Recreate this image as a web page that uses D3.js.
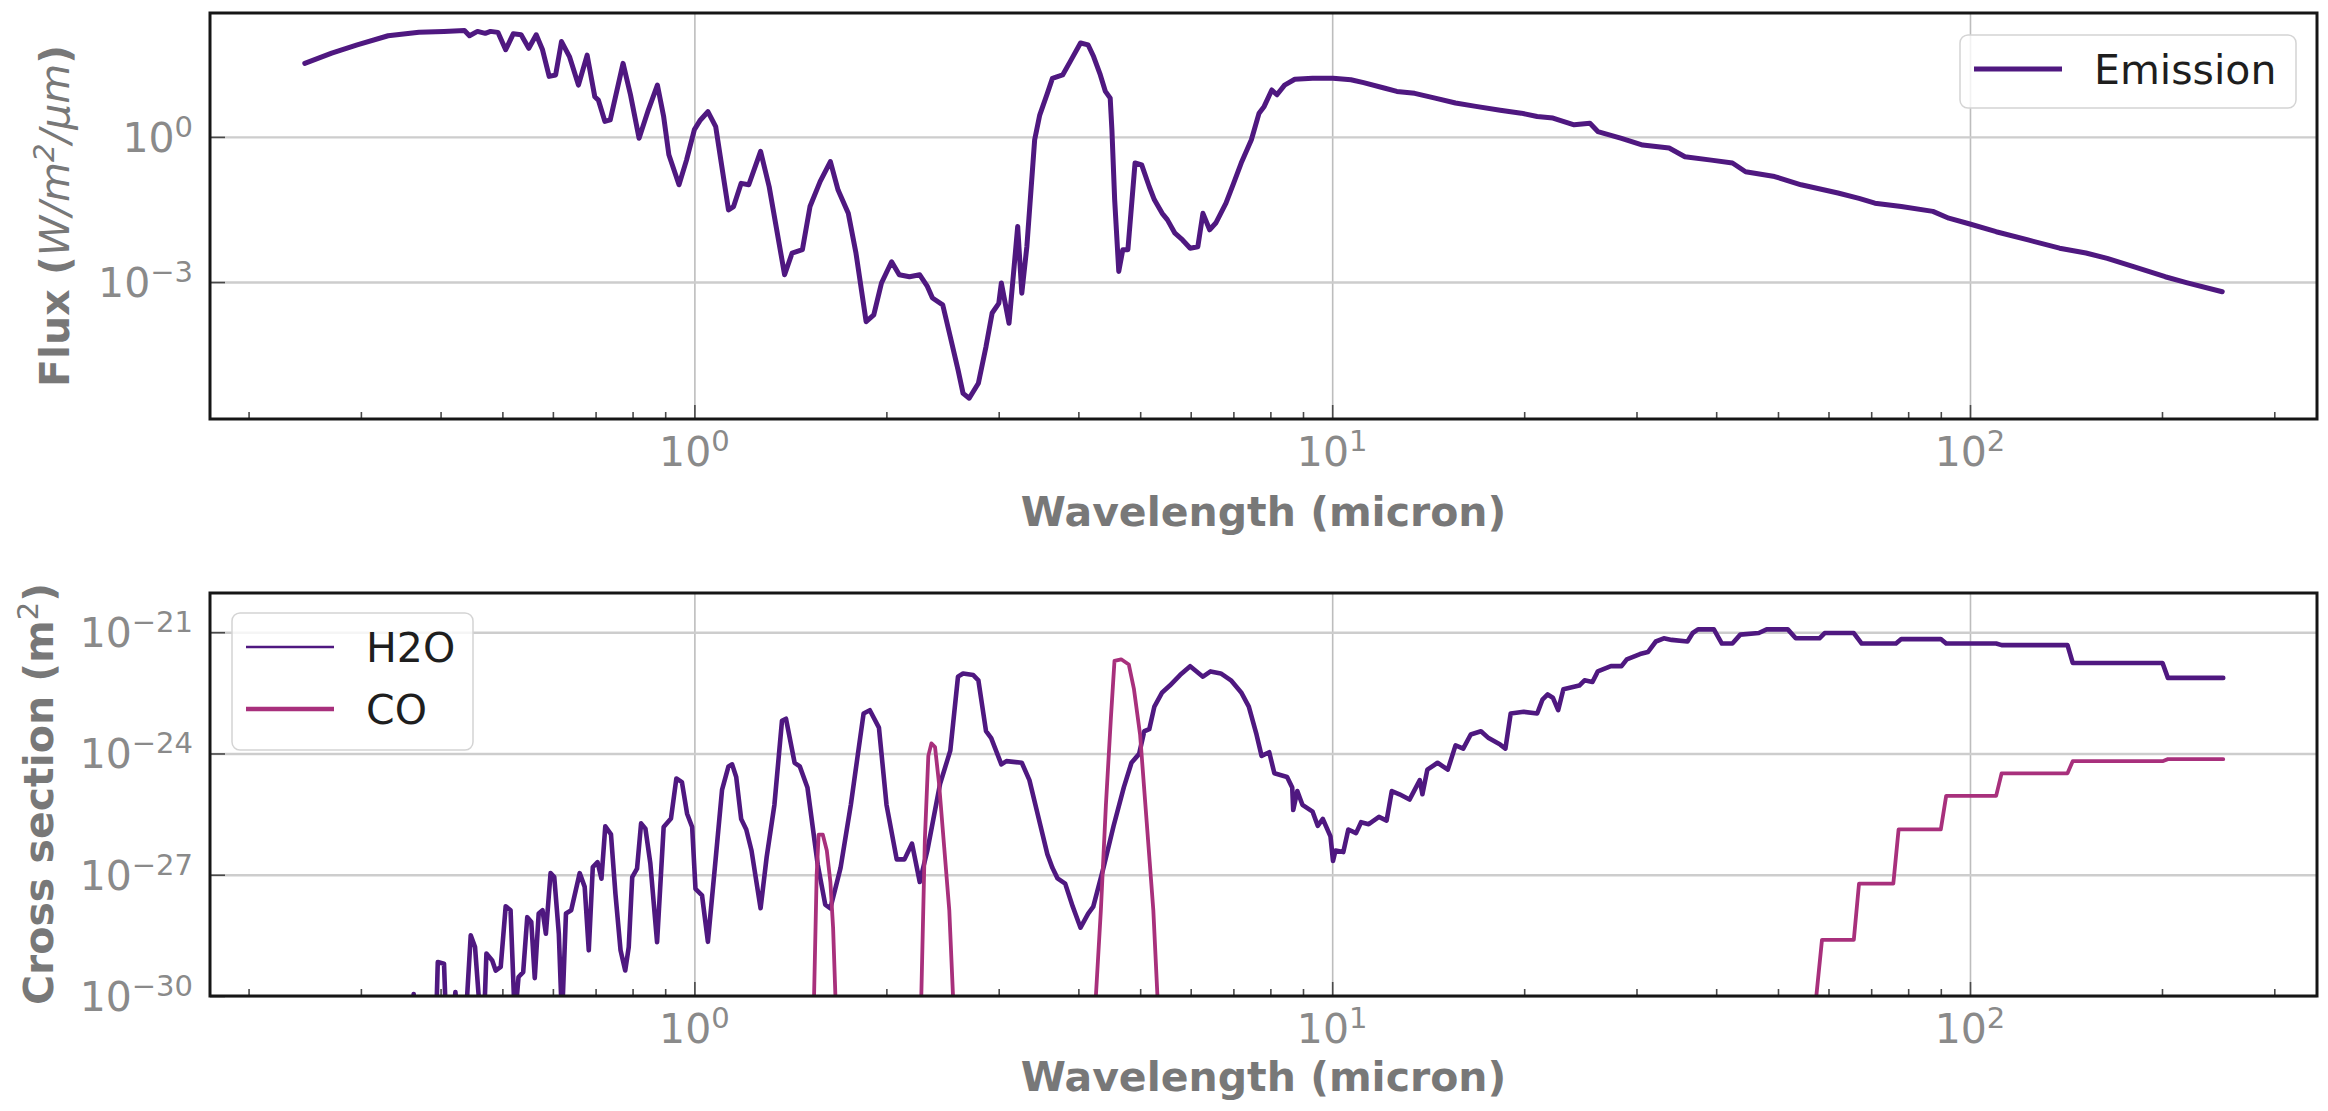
<!DOCTYPE html>
<html>
<head>
<meta charset="utf-8">
<script src="https://cdn.jsdelivr.net/npm/d3@7"></script>
<style>
    html, body { margin: 0; padding: 0; background: #fff; }
    svg { display: block; }
    text { font-family: "DejaVu Sans", sans-serif; }
</style>
</head>
<body>
<svg id="chart" width="2328" height="1111"></svg>
<script>
// wavelengths in micron; flux and cross sections are log10 values
var wavelengthTicks = [1, 10, 100];
var wavelengthTickExponents = ['0', '1', '2'];
var fluxTicks = [1e0, 1e-3];
var fluxTickExponents = ['0', '\u22123'];
var crossTicks = [1e-21, 1e-24, 1e-27, 1e-30];
var crossTickExponents = ['\u221221', '\u221224', '\u221227', '\u221230'];

var emissionWavelength = [
    0.245, 0.270, 0.296, 0.331, 0.370, 0.405, 0.436, 0.444, 0.457, 0.470,
    0.479, 0.492, 0.506, 0.520, 0.535, 0.550, 0.565, 0.578, 0.592, 0.606,
    0.619, 0.637, 0.658, 0.679, 0.698, 0.707, 0.724, 0.738, 0.773, 0.794,
    0.819, 0.847, 0.875, 0.895, 0.912, 0.946, 0.972, 1.000, 1.022, 1.050,
    1.080, 1.131, 1.152, 1.184, 1.217, 1.270, 1.310, 1.385, 1.423, 1.477,
    1.518, 1.575, 1.634, 1.680, 1.743, 1.792, 1.859, 1.911, 1.965, 2.038,
    2.095, 2.174, 2.256, 2.319, 2.362, 2.451, 2.519, 2.590, 2.638, 2.697,
    2.788, 2.866, 2.930, 3.001, 3.029, 3.114, 3.172, 3.213, 3.261, 3.321,
    3.416, 3.479, 3.576, 3.642, 3.779, 3.885, 4.031, 4.144, 4.226, 4.330,
    4.410, 4.487, 4.515, 4.560, 4.628, 4.696, 4.783, 4.908, 5.027, 5.167,
    5.263, 5.413, 5.514, 5.668, 5.826, 5.989, 6.157, 6.271, 6.425, 6.569,
    6.815, 7.005, 7.200, 7.470, 7.680, 7.823, 8.041, 8.191, 8.421, 8.737,
    9.318, 10.03, 10.70, 11.20, 12.06, 12.63, 13.47, 14.50, 15.61, 16.80,
    18.34, 19.79, 20.96, 22.19, 23.95, 25.36, 26.09, 28.42, 30.68, 33.75,
    35.73, 39.30, 42.42, 44.48, 49.39, 54.35, 62.09, 66.99, 70.94, 78.04,
    87.47, 92.64, 99.96, 109.9, 123.3, 138.2, 152.0, 164.1, 180.5, 202.3,
    218.4, 248.6
];
var emissionLogFlux = [
    1.52, 1.73, 1.90, 2.09, 2.16, 2.18, 2.20, 2.09, 2.18, 2.14,
    2.18, 2.16, 1.80, 2.13, 2.11, 1.83, 2.11, 1.80, 1.25, 1.28,
    1.97, 1.66, 1.07, 1.69, 0.83, 0.76, 0.32, 0.35, 1.52, 0.87,
    -0.03, 0.56, 1.07, 0.42, -0.37, -0.99, -0.48, 0.15, 0.35, 0.52,
    0.21, -1.51, -1.44, -0.96, -0.99, -0.30, -1.03, -2.85, -2.40, -2.33,
    -1.44, -0.92, -0.51, -1.10, -1.58, -2.40, -3.82, -3.68, -3.02, -2.58,
    -2.85, -2.89, -2.85, -3.09, -3.33, -3.47, -4.13, -4.81, -5.30, -5.40,
    -5.09, -4.33, -3.64, -3.44, -3.02, -3.85, -2.68, -1.85, -3.23, -2.27,
    -0.06, 0.45, 0.90, 1.21, 1.28, 1.56, 1.94, 1.90, 1.66, 1.28,
    0.94, 0.80, 0.14, -1.30, -2.78, -2.33, -2.33, -0.54, -0.58, -1.03,
    -1.30, -1.58, -1.71, -1.99, -2.13, -2.30, -2.27, -1.58, -1.92, -1.78,
    -1.37, -0.96, -0.54, -0.06, 0.49, 0.63, 0.97, 0.87, 1.07, 1.19,
    1.21, 1.21, 1.18, 1.12, 1.01, 0.94, 0.90, 0.80, 0.70, 0.63,
    0.55, 0.49, 0.42, 0.39, 0.25, 0.28, 0.11, -0.03, -0.17, -0.23,
    -0.41, -0.48, -0.54, -0.72, -0.82, -0.99, -1.16, -1.27, -1.37, -1.44,
    -1.54, -1.68, -1.80, -1.96, -2.13, -2.30, -2.40, -2.51, -2.68, -2.89,
    -3.01, -3.20
];

var h2oWavelength = [
    0.350, 0.360, 0.363, 0.366, 0.393, 0.396, 0.405, 0.408, 0.418, 0.422,
    0.426, 0.438, 0.446, 0.453, 0.462, 0.468, 0.472, 0.482, 0.488, 0.497,
    0.506, 0.515, 0.523, 0.530, 0.539, 0.547, 0.555, 0.562, 0.570, 0.578,
    0.585, 0.595, 0.603, 0.613, 0.620, 0.629, 0.641, 0.661, 0.673, 0.683,
    0.693, 0.705, 0.715, 0.725, 0.740, 0.752, 0.766, 0.779, 0.789, 0.799,
    0.813, 0.825, 0.838, 0.853, 0.874, 0.895, 0.919, 0.937, 0.956, 0.974,
    0.992, 1.004, 1.028, 1.050, 1.080, 1.105, 1.131, 1.146, 1.163, 1.184,
    1.206, 1.229, 1.270, 1.298, 1.335, 1.372, 1.392, 1.436, 1.463, 1.504,
    1.561, 1.604, 1.634, 1.695, 1.759, 1.842, 1.884, 1.947, 2.001, 2.076,
    2.135, 2.194, 2.256, 2.319, 2.428, 2.519, 2.590, 2.638, 2.737, 2.788,
    2.866, 2.920, 3.029, 3.085, 3.261, 3.352, 3.446, 3.576, 3.642, 3.710,
    3.814, 3.920, 4.031, 4.144, 4.221, 4.379, 4.543, 4.713, 4.845, 4.981,
    5.074, 5.167, 5.263, 5.413, 5.565, 5.773, 5.989, 6.271, 6.447, 6.688,
    6.939, 7.200, 7.401, 7.609, 7.750, 7.967, 8.116, 8.498, 8.656, 8.688,
    8.817, 8.981, 9.318, 9.491, 9.668, 9.938, 10.03, 10.12, 10.41, 10.60,
    10.90, 11.10, 11.41, 11.84, 12.17, 12.40, 12.75, 13.22, 13.72, 13.85,
    14.10, 14.63, 15.18, 15.61, 16.05, 16.49, 17.11, 17.59, 18.34, 18.69,
    19.05, 19.97, 20.96, 21.36, 21.77, 22.18, 22.61, 23.04, 24.40, 24.87,
    25.59, 26.09, 27.35, 28.42, 28.97, 30.38, 31.26, 32.17, 33.11, 34.06,
    36.06, 36.75, 37.46, 39.67, 40.83, 42.41, 43.64, 46.65, 48.00, 51.80,
    53.31, 58.07, 59.18, 65.74, 67.64, 76.56, 78.03, 90.00, 91.76, 109.9,
    112.1, 142.2, 144.9, 200.4, 204.3, 249.5
];
var h2oLogCross = [
    -31.0, -31.0, -29.95, -31.0, -31.0, -29.16, -29.20, -30.6, -30.6, -29.90,
    -30.6, -30.6, -28.50, -28.79, -30.6, -30.6, -28.95, -29.12, -29.37, -29.28,
    -27.78, -27.88, -30.6, -29.53, -29.41, -28.05, -28.17, -29.56, -27.96, -27.88,
    -28.46, -26.96, -27.06, -28.46, -30.6, -27.96, -27.88, -26.96, -27.30, -28.87,
    -26.81, -26.69, -27.10, -25.80, -26.00, -27.47, -28.87, -29.37, -28.79, -27.06,
    -26.85, -25.73, -25.86, -26.72, -28.67, -25.82, -25.61, -24.62, -24.71, -25.49,
    -25.82, -27.35, -27.51, -28.66, -26.60, -24.90, -24.32, -24.27, -24.58, -25.62,
    -25.88, -26.40, -27.83, -26.57, -25.27, -23.19, -23.14, -24.23, -24.32, -24.84,
    -26.75, -27.74, -27.83, -26.83, -25.27, -23.01, -22.93, -23.36, -25.27, -26.62,
    -26.62, -26.23, -27.18, -26.40, -24.75, -23.93, -22.10, -22.02, -22.06, -22.19,
    -23.45, -23.62, -24.27, -24.19, -24.23, -24.66, -25.44, -26.49, -26.83, -27.09,
    -27.22, -27.79, -28.31, -27.96, -27.79, -26.83, -25.79, -24.84, -24.23, -24.01,
    -23.45, -23.40, -22.84, -22.49, -22.32, -22.06, -21.84, -22.10, -21.97, -22.02,
    -22.19, -22.49, -22.84, -23.53, -24.06, -23.97, -24.49, -24.58, -24.84, -25.40,
    -24.93, -25.27, -25.44, -25.79, -25.62, -26.05, -26.66, -26.40, -26.44, -25.88,
    -25.97, -25.70, -25.75, -25.57, -25.66, -24.93, -25.01, -25.14, -24.66, -25.01,
    -24.40, -24.23, -24.40, -23.80, -23.88, -23.53, -23.45, -23.62, -23.78, -23.88,
    -23.01, -22.97, -23.01, -22.67, -22.54, -22.62, -22.93, -22.41, -22.32, -22.19,
    -22.23, -21.97, -21.84, -21.84, -21.67, -21.54, -21.49, -21.23, -21.15, -21.19,
    -21.23, -21.02, -20.93, -20.93, -21.28, -21.28, -21.06, -21.02, -20.93, -20.93,
    -21.15, -21.15, -21.02, -21.02, -21.28, -21.28, -21.17, -21.17, -21.28, -21.28,
    -21.32, -21.32, -21.76, -21.76, -22.13, -22.13
];

var coWavelength = [
    1.500, 1.538, 1.555, 1.566, 1.590, 1.613, 1.634, 1.650, 1.668, 2.265,
    2.298, 2.327, 2.353, 2.384, 2.419, 2.464, 2.510, 2.552, 4.243, 4.338,
    4.418, 4.499, 4.557, 4.668, 4.799, 4.889, 4.998, 5.119, 5.243, 5.340,
    57.00, 58.61, 65.74, 66.99, 75.82, 77.28, 90.00, 91.76, 109.9, 112.1,
    142.2, 144.9, 200.4, 204.3, 249.5
];
var coLogCross = [
    -31.0, -30.5, -27.01, -26.01, -26.01, -26.40, -27.18, -28.31, -30.5, -30.5,
    -26.14, -24.06, -23.75, -23.84, -24.75, -26.31, -27.88, -30.5, -30.5, -27.88,
    -25.27, -23.10, -21.71, -21.67, -21.80, -22.41, -23.53, -25.70, -27.88, -30.5,
    -30.5, -28.61, -28.61, -27.22, -27.22, -25.88, -25.88, -25.05, -25.05, -24.49,
    -24.49, -24.19, -24.19, -24.14, -24.14
];

var purple = '#4f1880';
var magenta = '#a8307c';

var spectrum = {};

spectrum.Panel = function (svg, id, box, yDomain) {
    this.svg = svg;
    this.id = id;
    this.box = box;
    this.bottom = box.top + box.height;
    this.x = d3.scaleLog()
        .domain([0.174, 350])
        .range([box.left, box.left + box.width]);
    this.y = d3.scaleLog()
        .domain(yDomain)
        .range([this.bottom, box.top]);
    this.g = svg.append('g').attr('class', 'panel-' + id);
};

spectrum.Panel.prototype.drawGrid = function (yTicks) {
    var box = this.box;

    this.g.append('g')
        .attr('class', 'grid')
        .attr('transform', 'translate(0,' + this.bottom + ')')
        .call(d3.axisBottom(this.x).tickValues(wavelengthTicks).tickSize(-box.height).tickFormat(''))
        .call(function (g) {
            g.select('.domain').remove();
            g.selectAll('line').attr('stroke', '#bdbdbd').attr('stroke-width', 1.6);
        });

    this.g.append('g')
        .attr('class', 'grid')
        .attr('transform', 'translate(' + box.left + ',0)')
        .call(d3.axisLeft(this.y).tickValues(yTicks).tickSize(-box.width).tickFormat(''))
        .call(function (g) {
            g.select('.domain').remove();
            g.selectAll('line').attr('stroke', '#cdcdcd').attr('stroke-width', 2.4);
        });
    return this;
};

spectrum.Panel.prototype.addSeries = function (wavelength, logValues, color, width) {
    var that = this,
        points = wavelength.map(function (w, i) {
            return [w, Math.pow(10, logValues[i])];
        }),
        line = d3.line()
            .x(function (d) { return that.x(d[0]); })
            .y(function (d) { return that.y(d[1]); });

    if (!this.plot) {
        this.svg.append('clipPath')
            .attr('id', 'clip-' + this.id)
            .append('rect')
            .attr('x', this.box.left)
            .attr('y', this.box.top)
            .attr('width', this.box.width)
            .attr('height', this.box.height);
        this.plot = this.g.append('g').attr('clip-path', 'url(#clip-' + this.id + ')');
    }

    this.plot.append('path')
        .datum(points)
        .attr('d', line)
        .attr('fill', 'none')
        .attr('stroke', color)
        .attr('stroke-width', width)
        .attr('stroke-linejoin', 'round')
        .attr('stroke-linecap', 'round');
    return this;
};

spectrum.Panel.prototype.drawAxes = function (yTicks, yExponents, labelOffset) {
    var that = this,
        box = this.box,
        minor = this.x.ticks().filter(function (t) {
            var l = Math.log10(t);
            return Math.abs(l - Math.round(l)) > 1e-6;
        }),
        ticks = this.g.append('g').attr('class', 'ticks'),
        labels;

    // frame
    this.g.append('rect')
        .attr('x', box.left)
        .attr('y', box.top)
        .attr('width', box.width)
        .attr('height', box.height)
        .attr('fill', 'none')
        .attr('stroke', '#161616')
        .attr('stroke-width', 3);

    // inward ticks, bottom and left only
    ticks.append('g')
        .attr('transform', 'translate(0,' + this.bottom + ')')
        .call(d3.axisBottom(this.x).tickValues(minor).tickSize(-7).tickFormat(''));
    ticks.append('g')
        .attr('transform', 'translate(0,' + this.bottom + ')')
        .call(d3.axisBottom(this.x).tickValues(wavelengthTicks).tickSize(-14).tickFormat(''));
    ticks.append('g')
        .attr('transform', 'translate(' + box.left + ',0)')
        .call(d3.axisLeft(this.y).tickValues(yTicks).tickSize(-15).tickFormat(''));
    ticks.selectAll('.domain').remove();
    ticks.selectAll('line').attr('stroke', '#4a4a4a').attr('stroke-width', 1.6);

    // tick labels as powers of ten
    labels = this.g.append('g').attr('fill', '#8a8a8a').attr('font-size', 41);
    wavelengthTicks.forEach(function (t, i) {
        var txt = labels.append('text')
            .attr('x', that.x(t))
            .attr('y', that.bottom + 47)
            .attr('text-anchor', 'middle');
        txt.append('tspan').text('10');
        txt.append('tspan').attr('font-size', 29).attr('dy', -15).text(wavelengthTickExponents[i]);
    });
    yTicks.forEach(function (t, i) {
        var txt = labels.append('text')
            .attr('x', box.left - 17)
            .attr('y', that.y(t) + 15)
            .attr('text-anchor', 'end');
        txt.append('tspan').text('10');
        txt.append('tspan').attr('font-size', 29).attr('dy', -15).text(yExponents[i]);
    });

    this.g.append('text')
        .attr('x', box.left + box.width / 2)
        .attr('y', this.bottom + labelOffset)
        .attr('text-anchor', 'middle')
        .attr('font-size', 41)
        .attr('font-weight', 'bold')
        .attr('fill', '#787878')
        .text('Wavelength (micron)');
    return this;
};

spectrum.Panel.prototype.drawLegend = function (box, entries) {
    var lg = this.g.append('g');
    lg.append('rect')
        .attr('x', box.x)
        .attr('y', box.y)
        .attr('width', box.w)
        .attr('height', box.h)
        .attr('rx', 8)
        .attr('fill', '#ffffff')
        .attr('fill-opacity', 0.8)
        .attr('stroke', '#d4d4d4')
        .attr('stroke-width', 1.5);
    entries.forEach(function (e, i) {
        var cy = box.y + 34 + i * 62;
        lg.append('line')
            .attr('x1', box.x + 14)
            .attr('x2', box.x + 102)
            .attr('y1', cy)
            .attr('y2', cy)
            .attr('stroke', e.color)
            .attr('stroke-width', e.width);
        lg.append('text')
            .attr('x', box.x + 134)
            .attr('y', cy + 15)
            .attr('font-size', 41)
            .attr('fill', '#1e1e1e')
            .text(e.label);
    });
    return this;
};

var svg = d3.select('#chart');

var fluxPanel = new spectrum.Panel(svg, 'flux',
    {left: 210, top: 13, width: 2107, height: 406},
    [Math.pow(10, -5.83), Math.pow(10, 2.56)]);
fluxPanel
    .drawGrid(fluxTicks)
    .addSeries(emissionWavelength, emissionLogFlux, purple, 5)
    .drawAxes(fluxTicks, fluxTickExponents, 107)
    .drawLegend({x: 1960, y: 35, w: 336, h: 73}, [
        {label: 'Emission', color: purple, width: 5}
    ]);

var crossPanel = new spectrum.Panel(svg, 'cross',
    {left: 210, top: 593, width: 2107, height: 403},
    [1e-30, Math.pow(10, -20.03)]);
crossPanel
    .drawGrid(crossTicks)
    .addSeries(h2oWavelength, h2oLogCross, purple, 4.6)
    .addSeries(coWavelength, coLogCross, magenta, 3.8)
    .drawAxes(crossTicks, crossTickExponents, 95)
    .drawLegend({x: 232, y: 613, w: 241, h: 137}, [
        {label: 'H2O', color: purple, width: 2.4},
        {label: 'CO', color: magenta, width: 4.6}
    ]);

// y axis labels
var fluxLabel = svg.append('text')
    .attr('transform', 'translate(69,216) rotate(-90)')
    .attr('text-anchor', 'middle')
    .attr('font-size', 41)
    .attr('fill', '#787878');
fluxLabel.append('tspan').attr('font-weight', 'bold').text('Flux (');
fluxLabel.append('tspan').attr('font-style', 'italic').text('W/m');
fluxLabel.append('tspan').attr('font-style', 'italic').attr('font-size', 29).attr('dy', -15).text('2');
fluxLabel.append('tspan').attr('font-style', 'italic').attr('dy', 15).text('/\u03bcm');
fluxLabel.append('tspan').attr('font-weight', 'bold').text(')');

var crossLabel = svg.append('text')
    .attr('transform', 'translate(53,794) rotate(-90)')
    .attr('text-anchor', 'middle')
    .attr('font-size', 41)
    .attr('fill', '#787878');
crossLabel.append('tspan').attr('font-weight', 'bold').text('Cross section (m');
crossLabel.append('tspan').attr('font-size', 29).attr('dy', -15).text('2');
crossLabel.append('tspan').attr('font-weight', 'bold').attr('dy', 15).text(')');
</script>
</body>
</html>
